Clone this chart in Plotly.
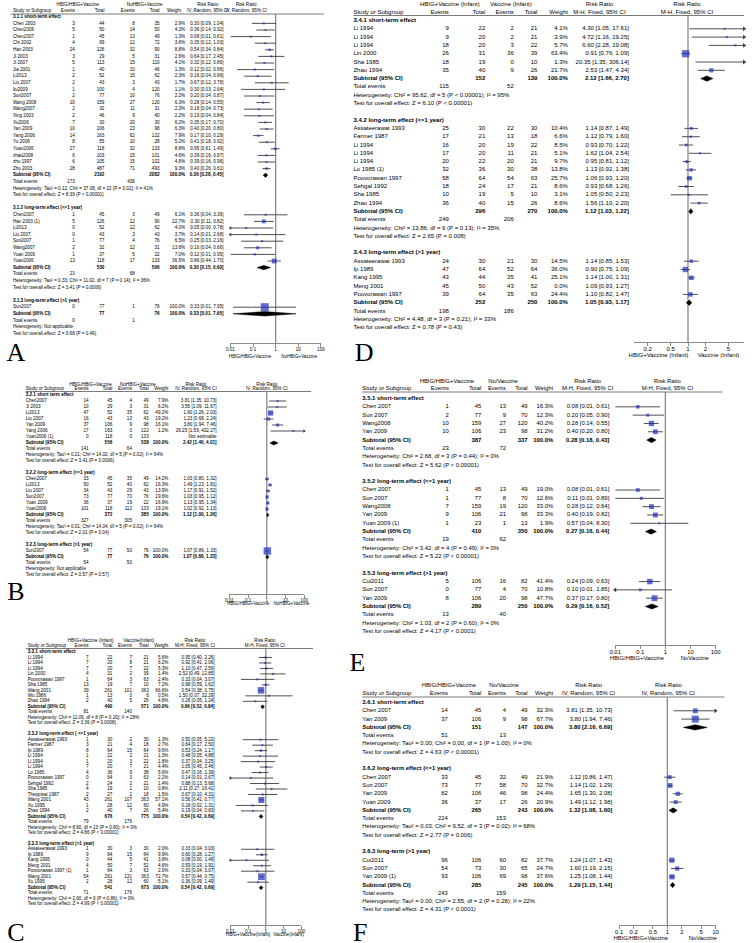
import math
import plotly.graph_objects as go

W, H = 756, 943
FONT = "Liberation Sans, Arial, sans-serif"
SERIF = "Liberation Serif, Times New Roman, serif"
BLUE = "#1f2fbf"
INK = "#000000"
GREY = "#8a8a8a"
CI_COL = "#3c3c3c"

# ------------------------------------------------------------------ data
# rows: (study, events1, total1, events2, total2, weight %, RR, lower, upper)
# ---- Panel A (3.1)
A_groups = ("HBIG/HBIG+Vaccine", "NoHBIG+Vaccine")
A_method = "IV, Random, 95% CI"
A_subtitles = ("HBIG/HBIG+Vaccine", "NoHBIG+Vaccine")
A_ticks = [0.01, 0.1, 1, 10, 100]
A1_title = "3.1.1 short-term effect"
A1_rows = [
    ("Chen 2003", 3, 44, 8, 35, 2.9, 0.30, 0.09, 1.04),
    ("Chen2006", 5, 50, 14, 50, 4.3, 0.36, 0.14, 0.92),
    ("Chen2007", 1, 45, 13, 49, 1.3, 0.08, 0.01, 0.61),
    ("Chi 2002", 4, 69, 12, 72, 3.6, 0.35, 0.12, 1.03),
    ("Han 2003", 24, 126, 32, 90, 8.8, 0.54, 0.34, 0.84),
    ("Ji 2003", 3, 29, 5, 31, 2.6, 0.64, 0.17, 2.45),
    ("Ji 2007", 5, 113, 15, 110, 4.1, 0.32, 0.12, 0.86),
    ("Jia 2001", 1, 40, 10, 46, 1.3, 0.12, 0.02, 0.86),
    ("Li2013", 2, 52, 15, 62, 2.3, 0.16, 0.04, 0.66),
    ("Liu 2007", 2, 43, 3, 43, 1.7, 0.67, 0.12, 3.78),
    ("liu2009", 1, 100, 4, 120, 1.1, 0.30, 0.03, 2.64),
    ("Sun2007", 2, 77, 10, 76, 2.2, 0.20, 0.04, 0.87),
    ("Wang 2008", 10, 159, 27, 120, 6.3, 0.28, 0.14, 0.55),
    ("Wang2007", 2, 32, 11, 31, 2.3, 0.18, 0.04, 0.73),
    ("Xing 2003", 2, 46, 9, 40, 2.2, 0.19, 0.04, 0.84),
    ("Xu2006", 7, 30, 20, 30, 6.2, 0.35, 0.17, 0.70),
    ("Yan 2009", 10, 106, 23, 98, 6.3, 0.40, 0.20, 0.80),
    ("Yang 2006", 14, 163, 62, 122, 7.9, 0.17, 0.10, 0.29),
    ("Yu 2006", 8, 55, 10, 28, 5.2, 0.41, 0.18, 0.92),
    ("Yuan2006", 27, 118, 32, 133, 8.8, 0.95, 0.61, 1.49),
    ("zhao2008", 6, 103, 15, 101, 4.6, 0.39, 0.16, 0.97),
    ("zhu 1997", 6, 105, 15, 102, 4.6, 0.39, 0.16, 0.96),
    ("Zhu 2003", 28, 487, 71, 493, 9.3, 0.40, 0.26, 0.61),
]
A1_sub = (0.36, 0.28, 0.45)
A1_het = "Heterogeneity: Tau² = 0.12; Chi² = 37.08, df = 22 (P = 0.02); I² = 41%"
A1_test = "Test for overall effect: Z = 8.39 (P < 0.00001)"
A2_title = "3.1.2 long-term effect (<=1 year)"
A2_rows = [
    ("Chen2007", 1, 45, 3, 49, 6.1, 0.36, 0.04, 3.36),
    ("Han 2003 (1)", 5, 126, 12, 90, 22.7, 0.30, 0.11, 0.82),
    ("Li2013", 0, 52, 12, 62, 4.0, 0.05, 0.003, 0.78),
    ("Liu 2007", 0, 43, 3, 43, 3.7, 0.14, 0.008, 2.68),
    ("Sun2007", 1, 77, 4, 76, 6.5, 0.25, 0.03, 2.16),
    ("Wang2007", 2, 32, 12, 31, 13.6, 0.16, 0.04, 0.66),
    ("Yuan 2009", 1, 37, 5, 22, 7.0, 0.12, 0.01, 0.95),
    ("Yuan2006", 13, 118, 17, 133, 36.5, 0.86, 0.44, 1.70),
]
A2_sub = (0.30, 0.15, 0.60)
A2_het = "Heterogeneity: Tau² = 0.33; Chi² = 11.02, df = 7 (P = 0.14); I² = 36%"
A2_test = "Test for overall effect: Z = 3.41 (P = 0.0006)"
A3_title = "3.1.3 long-term effect (>1 year)"
A3_rows = [("Sun2007", 0, 77, 1, 76, 100.0, 0.33, 0.013, 7.95)]
A3_sub = (0.33, 0.013, 7.95)
A3_het = "Heterogeneity: Not applicable"
A3_test = "Test for overall effect: Z = 0.68 (P = 0.49)"

# ---- Panel B (3.2)
B_groups = ("HBIG/HBIG+Vaccine", "NoHBIG+Vaccine")
B_method = "IV, Random, 95% CI"
B_subtitles = ("HBIG/HBIG+Vaccine", "NoHBIG+Vaccine")
B_ticks = [0.01, 0.1, 1, 10, 100]
B1_title = "3.2.1 short term effect"
B1_rows = [
    ("Chen2007", 14, 45, 4, 49, 7.9, 3.81, 1.35, 10.73),
    ("Ji 2003", 10, 29, 3, 31, 6.2, 3.56, 1.09, 11.67),
    ("Li2013", 47, 52, 35, 62, 49.2, 1.60, 1.26, 2.03),
    ("Liu 2007", 16, 43, 13, 43, 19.2, 1.23, 0.68, 2.24),
    ("Yan 2009", 37, 106, 9, 98, 16.1, 3.80, 1.94, 7.46),
    ("Yang 2006", 17, 163, 0, 122, 1.2, 26.25, 1.59, 432.27),
    ("Yuan2006 (1)", 0, 118, 0, 133, None, None, None, None),
]
B1_sub = (2.42, 1.46, 4.01)
B1_het = "Heterogeneity: Tau² = 0.21; Chi² = 14.02, df = 5 (P = 0.02); I² = 64%"
B1_test = "Test for overall effect: Z = 3.41 (P = 0.0006)"
B2_title = "3.2.2 long-term effect (<=1 year)"
B2_rows = [
    ("Chen2007", 33, 45, 35, 49, 14.2, 1.03, 0.80, 1.32),
    ("Li2013", 50, 52, 40, 62, 16.3, 1.49, 1.23, 1.81),
    ("Liu 2007", 34, 43, 29, 43, 13.9, 1.17, 0.91, 1.52),
    ("Sun2007", 73, 77, 70, 76, 19.6, 1.03, 0.95, 1.12),
    ("Yuan 2009", 36, 37, 19, 22, 16.9, 1.13, 0.95, 1.34),
    ("Yuan2006", 101, 118, 112, 133, 19.1, 1.02, 0.92, 1.13),
]
B2_sub = (1.12, 1.00, 1.26)
B2_het = "Heterogeneity: Tau² = 0.01; Chi² = 14.04, df = 5 (P = 0.02); I² = 64%"
B2_test = "Test for overall effect: Z = 2.01 (P = 0.04)"
B3_title = "3.2.3 long-term effect (>1 year)"
B3_rows = [("Sun2007", 54, 77, 50, 76, 100.0, 1.07, 0.86, 1.33)]
B3_sub = (1.07, 0.86, 1.33)
B3_het = "Heterogeneity: Not applicable"
B3_test = "Test for overall effect: Z = 0.57 (P = 0.57)"

# ---- Panel C (3.3)
C_groups = ("HBIG+Vaccine (Infant)", "Vaccine(Infant)")
C_method = "M-H, Fixed, 95% CI"
C_subtitles = ("HBIG+Vaccine(Infant)", "Vaccine(Infant)")
C_ticks = [0.01, 0.1, 1, 10, 100]
C1_title = "3.3.1 short-term effect"
C1_rows = [
    ("Li 1994", 7, 22, 7, 21, 5.6, 0.95, 0.40, 2.26),
    ("Li 1994", 7, 20, 8, 21, 6.2, 0.92, 0.41, 2.06),
    ("Li 1994", 7, 20, 7, 22, 5.3, 1.10, 0.47, 2.59),
    ("Lin 2000", 4, 31, 2, 39, 1.4, 2.52, 0.49, 12.85),
    ("Poovorawan 1997", 1, 64, 3, 63, 2.4, 0.33, 0.04, 3.07),
    ("Sha 1985", 13, 19, 7, 10, 7.2, 0.98, 0.59, 1.62),
    ("Wang 2001", 39, 261, 101, 363, 66.6, 0.54, 0.38, 0.75),
    ("Wu 1986", 1, 13, 0, 6, 0.5, 1.50, 0.07, 32.29),
    ("Zhao 1994", 2, 40, 5, 26, 4.8, 0.26, 0.05, 1.24),
]
C1_sub = (0.66, 0.52, 0.84)
C1_het = "Heterogeneity: Chi² = 11.09, df = 8 (P = 0.20); I² = 28%"
C1_test = "Test for overall effect: Z = 3.36 (P = 0.0008)"
C2_title = "3.3.2 long-term effect ( <=1 year)"
C2_rows = [
    ("Assateerawat 1993", 1, 30, 2, 30, 1.3, 0.50, 0.05, 5.22),
    ("Farmer 1987", 3, 21, 4, 18, 2.7, 0.64, 0.17, 2.50),
    ("Ip 1989", 8, 64, 15, 64, 9.6, 0.53, 0.24, 1.17),
    ("Li 1994", 1, 22, 2, 21, 1.3, 0.48, 0.05, 4.88),
    ("Li 1994", 1, 20, 3, 22, 1.8, 0.37, 0.04, 3.25),
    ("Li 1994", 7, 20, 7, 21, 4.4, 1.05, 0.45, 2.46),
    ("Lo 1985", 4, 36, 9, 38, 5.6, 0.47, 0.16, 1.39),
    ("Poovorawan 1997", 0, 64, 3, 63, 2.2, 0.14, 0.007, 2.67),
    ("Sehgal 1992", 2, 24, 2, 21, 1.4, 0.88, 0.13, 5.68),
    ("Sha 1985", 4, 19, 1, 10, 0.8, 2.11, 0.27, 16.41),
    ("Theppisai 1987", 2, 27, 2, 18, 1.5, 0.67, 0.10, 4.31),
    ("Wang 2001", 43, 261, 107, 363, 57.1, 0.56, 0.41, 0.77),
    ("Xu 1995", 1, 28, 12, 60, 4.9, 0.18, 0.02, 1.31),
    ("Zhao 1994", 2, 40, 7, 26, 5.4, 0.19, 0.04, 0.83),
]
C2_sub = (0.54, 0.42, 0.69)
C2_het = "Heterogeneity: Chi² = 8.60, df = 13 (P = 0.80); I² = 0%"
C2_test = "Test for overall effect: Z = 4.86 (P < 0.00001)"
C3_title = "3.3.3 long-term effect (>1 year)"
C3_rows = [
    ("Assateerawat 1993", 1, 30, 3, 30, 2.0, 0.33, 0.04, 3.03),
    ("Ip 1989", 9, 64, 15, 64, 9.9, 0.60, 0.28, 1.27),
    ("Kang 1995", 0, 44, 5, 41, 3.8, 0.08, 0.004, 1.49),
    ("Meng 2001", 4, 50, 7, 52, 4.6, 0.59, 0.19, 1.91),
    ("Poovorawan 1997 (1)", 1, 64, 3, 63, 2.0, 0.33, 0.04, 3.07),
    ("Wang 2001", 54, 261, 131, 363, 72.7, 0.57, 0.44, 0.75),
    ("Xu 1995", 2, 28, 12, 60, 5.1, 0.36, 0.09, 1.49),
]
C3_sub = (0.54, 0.42, 0.69)
C3_het = "Heterogeneity: Chi² = 2.60, df = 6 (P = 0.86); I² = 0%"
C3_test = "Test for overall effect: Z = 4.99 (P < 0.00001)"

# ---- Panel D (3.4)
D_groups = ("HBIG+Vaccine (Infant)", "Vaccine (Infant)")
D_method = "M-H, Fixed, 95% CI"
D_subtitles = ("HBIG+Vaccine (Infant)", "Vaccine (Infant)")
D_ticks = [0.2, 0.5, 1, 2, 5]
D1_title = "3.4.1 short-term effect"
D1_rows = [
    ("Li 1994", 9, 22, 2, 21, 4.1, 4.30, 1.05, 17.61),
    ("Li 1994", 9, 20, 2, 21, 3.9, 4.72, 1.16, 19.25),
    ("Li 1994", 18, 20, 3, 22, 5.7, 6.60, 2.28, 19.08),
    ("Lin 2000", 26, 31, 36, 39, 63.4, 0.91, 0.76, 1.09),
    ("Sha 1985", 18, 19, 0, 10, 1.3, 20.35, 1.35, 306.14),
    ("Zhao 1994", 35, 40, 9, 26, 21.7, 2.53, 1.47, 4.34),
]
D1_sub = (2.12, 1.66, 2.70)
D1_het = "Heterogeneity: Chi² = 95.62, df = 5 (P < 0.00001); I² = 95%"
D1_test = "Test for overall effect: Z = 6.10 (P < 0.00001)"
D2_title = "3.4.2 long-term effect (<=1 year)"
D2_rows = [
    ("Assateerawat 1993", 25, 30, 22, 30, 10.4, 1.14, 0.87, 1.49),
    ("Farmer 1987", 17, 21, 13, 18, 6.6, 1.12, 0.79, 1.60),
    ("Li 1994", 16, 20, 19, 22, 8.5, 0.93, 0.70, 1.22),
    ("Li 1994", 17, 20, 11, 21, 5.1, 1.62, 1.04, 2.54),
    ("Li 1994", 20, 22, 20, 21, 9.7, 0.95, 0.81, 1.12),
    ("Lo 1985 (1)", 32, 36, 30, 38, 13.8, 1.13, 0.92, 1.38),
    ("Poovorawan 1997", 58, 64, 54, 63, 25.7, 1.06, 0.93, 1.20),
    ("Sehgal 1992", 18, 24, 17, 21, 8.6, 0.93, 0.68, 1.26),
    ("Sha 1985", 10, 19, 5, 10, 3.1, 1.05, 0.50, 2.23),
    ("Zhao 1994", 36, 40, 15, 26, 8.6, 1.56, 1.10, 2.20),
]
D2_sub = (1.12, 1.03, 1.22)
D2_het = "Heterogeneity: Chi² = 13.86, df = 9 (P = 0.13); I² = 35%"
D2_test = "Test for overall effect: Z = 2.65 (P = 0.008)"
D3_title = "3.4.3 long-term effect (>1 year)"
D3_rows = [
    ("Assateerawat 1993", 24, 30, 21, 30, 14.5, 1.14, 0.85, 1.53),
    ("Ip 1989", 47, 64, 52, 64, 36.0, 0.90, 0.75, 1.09),
    ("Kang 1995", 43, 44, 35, 41, 25.1, 1.14, 1.00, 1.31),
    ("Meng 2001", 45, 50, 43, 52, 0.0, 1.09, 0.93, 1.27),
    ("Poovorawan 1997", 39, 64, 35, 63, 24.4, 1.10, 0.82, 1.47),
]
D3_sub = (1.05, 0.93, 1.17)
D3_het = "Heterogeneity: Chi² = 4.48, df = 3 (P = 0.21); I² = 33%"
D3_test = "Test for overall effect: Z = 0.78 (P = 0.43)"

# ---- Panel E (3.5)
E_groups = ("HBIG/HBIG+Vaccine", "No/Vaccine")
E_method = "M-H, Fixed, 95% CI"
E_subtitles = ("HBIG/HBIG+Vaccine", "NoVaccine")
E_ticks = [0.01, 0.1, 1, 10, 100]
E1_title = "3.5.1 short-term effect"
E1_rows = [
    ("Chen 2007", 1, 45, 13, 49, 16.3, 0.08, 0.01, 0.61),
    ("Sun 2007", 2, 77, 9, 70, 12.3, 0.20, 0.05, 0.90),
    ("Wang2008", 10, 159, 27, 120, 40.2, 0.28, 0.14, 0.55),
    ("Yan 2009", 10, 106, 23, 98, 31.2, 0.40, 0.20, 0.80),
]
E1_sub = (0.28, 0.18, 0.43)
E1_het = "Heterogeneity: Chi² = 2.68, df = 3 (P = 0.44); I² = 0%"
E1_test = "Test for overall effect: Z = 5.62 (P < 0.00001)"
E2_title = "3.5.2 long-term effect (<=1 year)"
E2_rows = [
    ("Chen 2007", 1, 45, 13, 49, 19.0, 0.08, 0.01, 0.61),
    ("Sun 2007", 1, 77, 8, 70, 12.6, 0.11, 0.01, 0.89),
    ("Wang2008", 7, 159, 19, 120, 33.0, 0.28, 0.12, 0.64),
    ("Yan 2009", 9, 106, 21, 98, 33.3, 0.40, 0.19, 0.82),
    ("Yuan 2009 (1)", 1, 23, 1, 13, 1.9, 0.57, 0.04, 8.30),
]
E2_sub = (0.27, 0.16, 0.44)
E2_het = "Heterogeneity: Chi² = 3.42, df = 4 (P = 0.49); I² = 0%"
E2_test = "Test for overall effect: Z = 5.22 (P < 0.00001)"
E3_title = "3.5.3 long-term effect (>1 year)"
E3_rows = [
    ("Cui2011", 5, 106, 16, 82, 41.4, 0.24, 0.09, 0.63),
    ("Sun 2007", 0, 77, 4, 70, 10.8, 0.10, 0.006, 1.85),
    ("Yan 2009", 8, 106, 20, 98, 47.7, 0.37, 0.17, 0.80),
]
E3_sub = (0.29, 0.16, 0.52)
E3_het = "Heterogeneity: Chi² = 1.03, df = 2 (P = 0.60); I² = 0%"
E3_test = "Test for overall effect: Z = 4.17 (P < 0.0001)"

# ---- Panel F (3.6)
F_groups = ("HBIG/HBIG+Vaccine", "No/Vaccine")
F_method = "IV, Random, 95% CI"
F_subtitles = ("HBIG/HBIG+Vaccine", "NoVaccine")
F_ticks = [0.1, 0.2, 0.5, 1, 2, 5, 10]
F1_title = "3.6.1 short-term effect"
F1_rows = [
    ("Chen 2007", 14, 45, 4, 49, 32.3, 3.81, 1.35, 10.73),
    ("Yan 2009", 37, 106, 9, 98, 67.7, 3.80, 1.94, 7.46),
]
F1_sub = (3.80, 2.16, 6.69)
F1_het = "Heterogeneity: Tau² = 0.00; Chi² = 0.00, df = 1 (P = 1.00); I² = 0%"
F1_test = "Test for overall effect: Z = 4.63 (P < 0.00001)"
F2_title = "3.6.2 long-term effect (<=1 year)"
F2_rows = [
    ("Chen 2007", 33, 45, 32, 49, 21.9, 1.12, 0.86, 1.47),
    ("Sun 2007", 73, 77, 58, 70, 32.7, 1.14, 1.02, 1.29),
    ("Yan 2009", 82, 106, 46, 98, 24.4, 1.65, 1.30, 2.08),
    ("Yuan 2009", 36, 37, 17, 26, 20.9, 1.49, 1.12, 1.98),
]
F2_sub = (1.32, 1.08, 1.60)
F2_het = "Heterogeneity: Tau² = 0.03; Chi² = 9.52, df = 3 (P = 0.02); I² = 68%"
F2_test = "Test for overall effect: Z = 2.77 (P = 0.006)"
F3_title = "3.6.3 long-term (>1 year)"
F3_rows = [
    ("Cui2011", 96, 106, 60, 82, 37.7, 1.24, 1.07, 1.43),
    ("Sun 2007", 54, 73, 30, 65, 24.7, 1.60, 1.19, 2.15),
    ("Yan 2009 (1)", 93, 106, 69, 98, 37.6, 1.25, 1.08, 1.44),
]
F3_sub = (1.29, 1.15, 1.44)
F3_het = "Heterogeneity: Tau² = 0.00; Chi² = 2.55, df = 2 (P = 0.28); I² = 22%"
F3_test = "Test for overall effect: Z = 4.31 (P < 0.0001)"

# ------------------------------------------------------------------ layout (pixel positions)
PANELS = [
    dict(letter="A", letter_xy=(10, 354),
         data=[(A1_title, A1_rows, A1_sub, A1_het, A1_test),
               (A2_title, A2_rows, A2_sub, A2_het, A2_test),
               (A3_title, A3_rows, A3_sub, A3_het, A3_test)],
         groups=A_groups, method=A_method, subtitles=A_subtitles, ticks=A_ticks,
         fs=4.6, cols=(7, 70, 100, 131, 156, 182, 221), wh=178, gx=(73, 141), rrh=205, plh=244,
         yg=5, yh=11, yline=14, y0=16.8, dy=6.6, linex=(5, 323),
         px=(228, 320), rng=(-2, 2), yaxis=343, ysub=357, subx=(248, 298), k=0.8, dh=2.2),
    dict(letter="B", letter_xy=(10, 593),
         data=[(B1_title, B1_rows, B1_sub, B1_het, B1_test),
               (B2_title, B2_rows, B2_sub, B2_het, B2_test),
               (B3_title, B3_rows, B3_sub, B3_het, B3_test)],
         groups=B_groups, method=B_method, subtitles=B_subtitles, ticks=B_ticks,
         fs=4.6, cols=(20, 84, 108, 128, 145, 165, 214), wh=165, gx=(86, 134), rrh=193, plh=265,
         yg=384.5, yh=389, yline=391.5, y0=395, dy=6.0, linex=(20, 310),
         px=(227, 303), rng=(-2, 2), yaxis=594, ysub=604, subx=(246, 290), k=0.75, dh=2.0),
    dict(letter="C", letter_xy=(10, 934),
         data=[(C1_title, C1_rows, C1_sub, C1_het, C1_test),
               (C2_title, C2_rows, C2_sub, C2_het, C2_test),
               (C3_title, C3_rows, C3_sub, C3_het, C3_test)],
         groups=C_groups, method=C_method, subtitles=C_subtitles, ticks=C_ticks,
         fs=4.6, cols=(22, 84, 108, 128, 145, 165, 212), wh=165, gx=(86, 135), rrh=192, plh=263,
         yg=641, yh=646, yline=648.5, y0=652, dy=5.48, linex=(20, 312),
         px=(228, 300), rng=(-2, 2), yaxis=925, ysub=935, subx=(246, 287), k=0.8, dh=2.0),
    dict(letter="D", letter_xy=(364, 354),
         data=[(D1_title, D1_rows, D1_sub, D1_het, D1_test),
               (D2_title, D2_rows, D2_sub, D2_het, D2_test),
               (D3_title, D3_rows, D3_sub, D3_het, D3_test)],
         groups=D_groups, method=D_method, subtitles=D_subtitles, ticks=D_ticks,
         fs=6.0, cols=(353, 450, 487, 516, 540, 571, 633), wh=571, gx=(451, 513), rrh=603, plh=692,
         yg=4.5, yh=12, yline=15.5, y0=20.5, dy=8.3, linex=(353, 750),
         px=(638, 750), rng=(-0.937, 0.971), yaxis=342, ysub=355, subx=(663, 724), k=0.9, dh=2.7),
    dict(letter="E", letter_xy=(357, 664),
         data=[(E1_title, E1_rows, E1_sub, E1_het, E1_test),
               (E2_title, E2_rows, E2_sub, E2_het, E2_test),
               (E3_title, E3_rows, E3_sub, E3_het, E3_test)],
         groups=E_groups, method=E_method, subtitles=E_subtitles, ticks=E_ticks,
         fs=5.9, cols=(362, 450, 483, 508, 530, 556, 613), wh=556, gx=(448, 505), rrh=591, plh=672,
         yg=382, yh=388.5, yline=392, y0=398.5, dy=8.32, linex=(362, 728),
         px=(619, 721), rng=(-2, 2), yaxis=645, ysub=659, subx=(641, 700), k=0.85, dh=2.6),
    dict(letter="F", letter_xy=(360, 934),
         data=[(F1_title, F1_rows, F1_sub, F1_het, F1_test),
               (F2_title, F2_rows, F2_sub, F2_het, F2_test),
               (F3_title, F3_rows, F3_sub, F3_het, F3_test)],
         groups=F_groups, method=F_method, subtitles=F_subtitles, ticks=F_ticks,
         fs=5.9, cols=(362, 449, 483, 508, 530, 556, 616), wh=556, gx=(450, 506), rrh=592, plh=673,
         yg=686, yh=694, yline=697, y0=702.5, dy=8.3, linex=(362, 730),
         px=(623, 721), rng=(-1, 1), yaxis=925, ysub=938.5, subx=(645, 708), k=0.85, dh=2.6),
]


def esc(s):
    return s.replace("&", "&amp;").replace("<", "&lt;").replace(">", "&gt;")


def fmt_rr(rr, lo, hi):
    if rr is None:
        return "Not estimable"
    return f"{rr:.2f} [{lo:.2f}, {hi:.2f}]"


fig = go.Figure()
shapes = []
layout_axes = {}

for i, P in enumerate(PANELS):
    xa = f"x{i + 2}"
    fs = P["fs"]
    cn, ce1, cn1, ce2, cn2, cw, crr = P["cols"]
    lo_lim, hi_lim = 10 ** P["rng"][0], 10 ** P["rng"][1]
    stores = {"l": ([], [], []), "r": ([], [], []), "c": ([], [], [])}

    def put(al, x, y, t, bold=False):
        s = stores[al]
        s[0].append(x)
        s[1].append(y)
        s[2].append(f"<b>{esc(t)}</b>" if bold else esc(t))

    # headers
    put("c", P["gx"][0], P["yg"], P["groups"][0])
    put("c", P["gx"][1], P["yg"], P["groups"][1])
    put("c", P["rrh"], P["yg"], "Risk Ratio")
    put("c", P["plh"], P["yg"], "Risk Ratio")
    put("l", cn, P["yh"], "Study or Subgroup")
    put("r", ce1, P["yh"], "Events")
    put("r", cn1, P["yh"], "Total")
    put("r", ce2, P["yh"], "Events")
    put("r", cn2, P["yh"], "Total")
    put("r", P["wh"], P["yh"], "Weight")
    put("c", P["rrh"], P["yh"], P["method"])
    put("c", P["plh"], P["yh"], P["method"])

    ci_x, ci_y = [], []
    sq_x, sq_y, sq_s = [], [], []
    al_y, ar_y = [], []
    dm_x, dm_y = [], []
    r = 0
    for (title, rows, sub, het, test) in P["data"]:
        put("l", cn, P["y0"] + r * P["dy"], title, True)
        r += 1
        for (name, e1, n1, e2, n2, w, rr, lo, hi) in rows:
            y = P["y0"] + r * P["dy"]
            put("l", cn, y, name)
            put("r", ce1, y, str(e1))
            put("r", cn1, y, str(n1))
            put("r", ce2, y, str(e2))
            put("r", cn2, y, str(n2))
            if w is not None:
                put("r", cw, y, f"{w:.1f}%")
            put("r", crr, y, fmt_rr(rr, lo, hi))
            if rr is not None and w > 0:
                a, b = max(lo, lo_lim), min(hi, hi_lim)
                ci_x += [a, b, None]
                ci_y += [y, y, None]
                if lo < lo_lim:
                    al_y.append(y)
                if hi > hi_lim:
                    ar_y.append(y)
                if lo_lim <= rr <= hi_lim:
                    sq_x.append(rr)
                    sq_y.append(y)
                    sq_s.append(max(2.0, P["k"] * math.sqrt(w)))
            r += 1
        y = P["y0"] + r * P["dy"]
        put("l", cn, y, "Subtotal (95% CI)", True)
        put("r", cn1, y, str(sum(row[2] for row in rows)), True)
        put("r", cn2, y, str(sum(row[4] for row in rows)), True)
        put("r", cw, y, "100.0%", True)
        put("r", crr, y, fmt_rr(*sub), True)
        srr, slo, shi = sub
        a, b = max(slo, lo_lim), min(shi, hi_lim)
        dm_x += [a, srr, b, srr, a, None]
        dm_y += [y, y - P["dh"], y, y + P["dh"], y, None]
        r += 1
        y = P["y0"] + r * P["dy"]
        put("l", cn, y, "Total events")
        put("r", ce1, y, str(sum(row[1] for row in rows)))
        put("r", ce2, y, str(sum(row[3] for row in rows)))
        r += 1
        put("l", cn, P["y0"] + r * P["dy"], het)
        r += 1
        put("l", cn, P["y0"] + r * P["dy"], test)
        r += 2

    # axis subtitles
    put("c", P["subx"][0], P["ysub"], P["subtitles"][0])
    put("c", P["subx"][1], P["ysub"], P["subtitles"][1])

    for al, pos in (("l", "middle right"), ("r", "middle left"), ("c", "middle center")):
        xs, ys, ts = stores[al]
        fig.add_trace(go.Scatter(
            x=xs, y=ys, text=ts, mode="text", textposition=pos,
            textfont=dict(family=FONT, size=fs, color=INK),
            marker=dict(size=0), xaxis="x", yaxis="y",
            hoverinfo="skip", showlegend=False, cliponaxis=False))

    # panel letter
    fig.add_trace(go.Scatter(
        x=[P["letter_xy"][0]], y=[P["letter_xy"][1]], text=[P["letter"]],
        mode="text", textposition="middle center",
        textfont=dict(family=SERIF, size=26, color=INK),
        marker=dict(size=0), xaxis="x", yaxis="y",
        hoverinfo="skip", showlegend=False, cliponaxis=False))

    # reference line at RR = 1
    fig.add_trace(go.Scatter(
        x=[1, 1], y=[P["yline"], P["yaxis"]], mode="lines",
        line=dict(color=GREY, width=1.3), xaxis=xa, yaxis="y",
        hoverinfo="skip", showlegend=False))
    # confidence intervals
    fig.add_trace(go.Scatter(
        x=ci_x, y=ci_y, mode="lines", line=dict(color=CI_COL, width=0.9),
        xaxis=xa, yaxis="y", hoverinfo="skip", showlegend=False, cliponaxis=False))
    # arrows for truncated intervals
    if al_y:
        fig.add_trace(go.Scatter(
            x=[lo_lim] * len(al_y), y=al_y, mode="markers",
            marker=dict(symbol="triangle-left", size=P["fs"] * 0.7, color=CI_COL),
            xaxis=xa, yaxis="y", hoverinfo="skip", showlegend=False, cliponaxis=False))
    if ar_y:
        fig.add_trace(go.Scatter(
            x=[hi_lim] * len(ar_y), y=ar_y, mode="markers",
            marker=dict(symbol="triangle-right", size=P["fs"] * 0.7, color=CI_COL),
            xaxis=xa, yaxis="y", hoverinfo="skip", showlegend=False, cliponaxis=False))
    # study squares
    fig.add_trace(go.Scatter(
        x=sq_x, y=sq_y, mode="markers",
        marker=dict(symbol="square", size=sq_s, color=BLUE, line=dict(width=0)),
        xaxis=xa, yaxis="y", hoverinfo="skip", showlegend=False, cliponaxis=False))
    # subtotal diamonds
    fig.add_trace(go.Scatter(
        x=dm_x, y=dm_y, mode="lines", fill="toself", fillcolor="#000000",
        line=dict(color="#000000", width=0.5), xaxis=xa, yaxis="y",
        hoverinfo="skip", showlegend=False))

    shapes.append(dict(type="line", xref="x", yref="y",
                       x0=P["linex"][0], x1=P["linex"][1], y0=P["yline"], y1=P["yline"],
                       line=dict(color="#7a7a7a", width=1)))

    layout_axes["xaxis" + str(i + 2)] = dict(
        type="log", domain=[P["px"][0] / W, P["px"][1] / W], range=list(P["rng"]),
        anchor="free", position=1 - P["yaxis"] / H,
        showline=True, linecolor=GREY, linewidth=1,
        ticks="outside", ticklen=3, tickwidth=1, tickcolor=GREY,
        tickmode="array", tickvals=P["ticks"], ticktext=[f"{v:g}" for v in P["ticks"]],
        tickfont=dict(family=FONT, size=fs, color=INK), ticklabelstandoff=-2,
        showgrid=False, zeroline=False, fixedrange=True)

fig.update_layout(
    width=W, height=H, margin=dict(l=0, r=0, t=0, b=0),
    paper_bgcolor="white", plot_bgcolor="rgba(0,0,0,0)",
    showlegend=False, hovermode=False,
    xaxis=dict(range=[0, W], domain=[0, 1], visible=False, fixedrange=True),
    yaxis=dict(range=[H, 0], domain=[0, 1], visible=False, fixedrange=True),
    shapes=shapes,
    **layout_axes,
)

fig.write_html(
    "out.html",
    config={"displayModeBar": False},
    post_script="document.body.style.margin='0';document.body.style.overflow='hidden';",
)
